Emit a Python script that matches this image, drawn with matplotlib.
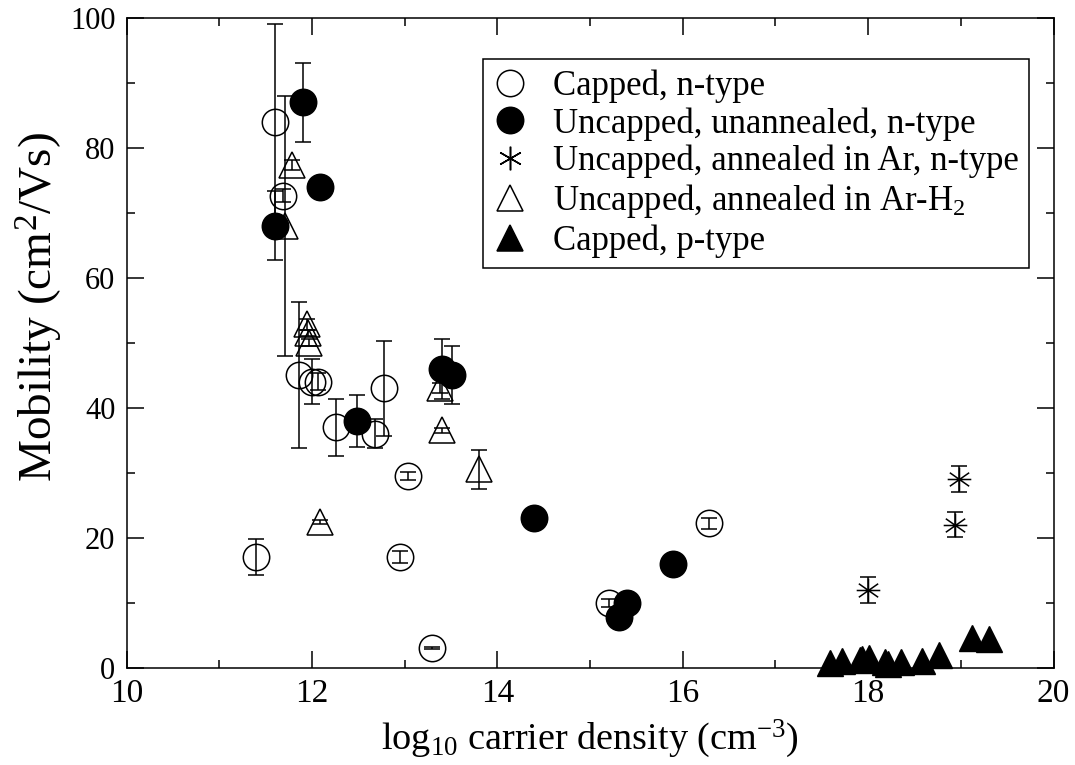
import numpy as np
import matplotlib
matplotlib.use("Agg")
import matplotlib.pyplot as plt
from matplotlib.path import Path
from matplotlib.lines import Line2D

plt.rcParams['font.family'] = ['Liberation Serif', 'DejaVu Serif']
plt.rcParams['mathtext.fontset'] = 'custom'
plt.rcParams['mathtext.rm'] = 'Liberation Serif'
plt.rcParams['mathtext.it'] = 'Liberation Serif'
plt.rcParams['mathtext.default'] = 'rm'

# Capped, n-type (open circles)
capped_n_x = [11.40, 11.60, 11.69, 11.86, 12.00, 12.07, 12.26, 12.68, 12.78, 12.95, 13.04, 13.30, 15.20, 16.28]
capped_n_y = [17.0, 84.0, 72.6, 45.0, 44.0, 44.0, 37.0, 36.0, 43.0, 17.0, 29.5, 3.0, 10.0, 22.2]
capped_n_err = [2.8, 15.0, 1.0, 11.2, 3.5, 1.3, 4.4, 2.2, 7.3, 0.9, 0.6, 0.2, 0.6, 0.8]

# Uncapped, unannealed, n-type (filled circles)
unann_x = [11.60, 11.90, 12.09, 12.49, 13.40, 13.51, 14.40, 15.31, 15.40, 15.90]
unann_y = [68.0, 87.0, 74.0, 38.0, 46.0, 45.0, 23.0, 7.8, 10.0, 16.0]
unann_err = [5.3, 6.1, 0.0, 4.0, 4.6, 4.5, 0.0, 0.0, 0.0, 0.0]

# Uncapped, annealed in Ar, n-type (stars)
ar_x = [18.00, 18.94, 18.98]
ar_y = [12.0, 22.0, 29.0]
ar_err = [2.0, 1.9, 2.0]

# Uncapped, annealed in Ar-H2 (open triangles)
arh2_x = [11.71, 11.79, 11.95, 11.96, 11.97, 12.09, 13.38, 13.40, 13.80]
arh2_y = [68.0, 77.3, 52.8, 51.5, 50.0, 22.4, 43.0, 36.5, 30.5]
arh2_err = [20.0, 0.8, 0.8, 0.5, 0.5, 0.3, 0.8, 0.4, 3.0]

# Capped, p-type (filled triangles)
ptype_x = [17.59, 17.72, 17.91, 17.93, 18.01, 18.18, 18.22, 18.36, 18.58, 18.76, 19.12, 19.30]
ptype_y = [0.7, 1.1, 1.2, 1.3, 1.5, 0.8, 0.5, 0.8, 1.0, 2.0, 4.5, 4.4]

labels = ["Capped, n-type", "Uncapped, unannealed, n-type",
          "Uncapped, annealed in Ar, n-type", "Uncapped, annealed in Ar-H$_2$",
          "Capped, p-type"]

# star marker: horizontal, vertical and two diagonals
verts, codes = [], []
for a in np.radians([0, 90, 35, 145]):
    verts += [(-np.cos(a), -np.sin(a)), (np.cos(a), np.sin(a))]
    codes += [Path.MOVETO, Path.LINETO]
star = Path(verts, codes)

fig = plt.figure(figsize=(10.75, 7.65), dpi=100)
ax = fig.add_axes([0.1177, 0.1272, 0.8623, 0.8497])

ms = 19
lw = 1.1
eb = dict(ecolor='k', elinewidth=lw, capsize=6, capthick=lw, linestyle='none')

ax.errorbar(capped_n_x, capped_n_y, yerr=capped_n_err, marker='o', ms=ms,
            mfc='none', mec='k', mew=lw, **eb)
ax.errorbar(unann_x, unann_y, yerr=unann_err, marker='o', ms=ms,
            mfc='k', mec='k', mew=lw, **eb)
ax.errorbar(ar_x, ar_y, yerr=ar_err, marker=star, ms=ms - 2,
            mfc='none', mec='k', mew=lw, **eb)
ax.errorbar(arh2_x, arh2_y, yerr=arh2_err, marker='^', ms=ms,
            mfc='none', mec='k', mew=lw, **eb)
ax.plot(ptype_x, ptype_y, linestyle='none', marker='^', ms=ms,
        mfc='k', mec='k', clip_on=False)

ax.set_xlim(10, 20)
ax.set_ylim(0, 100)
ax.set_xticks(np.arange(10, 21, 2))
ax.set_xticks(np.arange(10, 21, 1), minor=True)
ax.set_yticks(np.arange(0, 101, 20))
ax.set_yticks(np.arange(0, 101, 10), minor=True)
ax.tick_params(which='both', direction='in', top=True, right=True, width=lw)
ax.tick_params(which='major', length=12)
ax.tick_params(which='minor', length=6)
ax.tick_params(axis='y', pad=8, labelsize=22)
ax.tick_params(axis='x', pad=8, labelsize=24)
for s in ax.spines.values():
    s.set_linewidth(lw)

ax.set_xlabel("log$_{10}$ carrier density (cm$^{-3}$)", fontsize=27.5, labelpad=6)
ax.set_ylabel("Mobility (cm$^2$/Vs)", fontsize=34)
ax.yaxis.set_label_coords(-0.066, 0.555)

handles = [
    Line2D([], [], ls='none', marker='o', ms=ms, mfc='none', mec='k', mew=lw),
    Line2D([], [], ls='none', marker='o', ms=ms, mfc='k', mec='k', mew=lw),
    Line2D([], [], ls='none', marker=(6, 2, 0), ms=ms - 2, mec='k', mew=lw),
    Line2D([], [], ls='none', marker='^', ms=ms, mfc='none', mec='k', mew=lw),
    Line2D([], [], ls='none', marker='^', ms=ms, mfc='k', mec='k', mew=lw),
]
leg = ax.legend(handles, labels, loc='upper left', bbox_to_anchor=(0.3846, 0.9365),
                borderaxespad=0, fontsize=25, frameon=True, fancybox=False,
                framealpha=1, edgecolor='k', handlelength=0.93, handletextpad=0.78,
                labelspacing=0.12, borderpad=0.3)
leg.get_frame().set_linewidth(lw)

fig.savefig("out.png", dpi=100)
